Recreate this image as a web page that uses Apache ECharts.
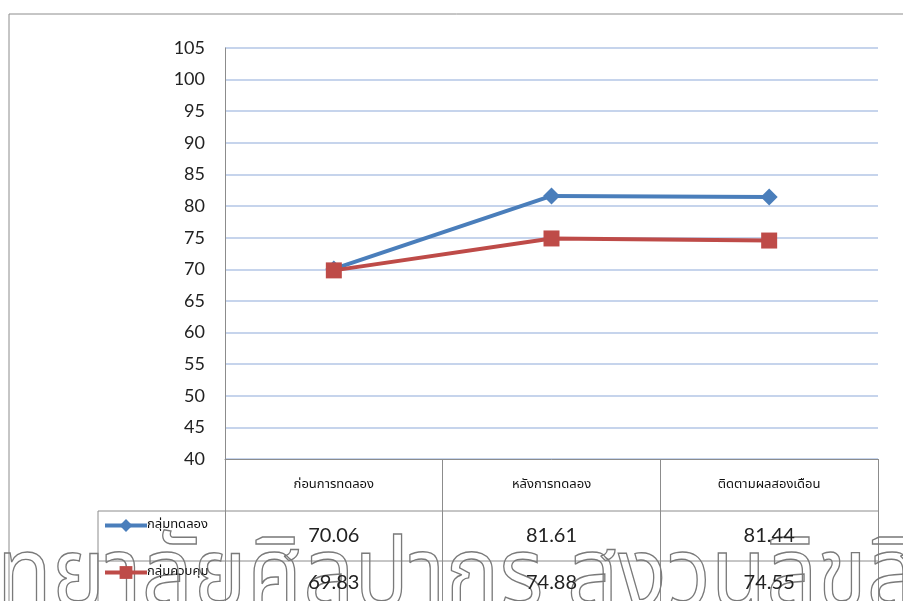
<!DOCTYPE html>
<html>
<head>
<meta charset="utf-8">
<script src="https://cdn.jsdelivr.net/npm/echarts@6/dist/echarts.min.js"></script>
<style>
html,body{margin:0;padding:0;background:#fff;}
#main{width:903px;height:601px;}
</style>
</head>
<body>
<div id="main"></div>
<script>
const categories = ['ก่อนการทดลอง', 'หลังการทดลอง', 'ติดตามผลสองเดือน'];
const seriesNames = ['กลุ่มทดลอง', 'กลุ่มควบคุม'];
const experimental = [70.06, 81.61, 81.44];
const control = [69.83, 74.88, 74.55];
const yMin = 40, yMax = 105, yStep = 5;
const watermark = 'ทยาลัยศิลปากร สงวนลิขสิทธิ์';

const BLUE = '#4a7ebb', RED = '#be4b48', GRID = '#c6d4ec', LINE = '#8c8c8c';
const NUMFONT = 'Lato, "Open Sans", sans-serif';
const THFONT = '"Noto Sans Thai", "Noto Sans", sans-serif';

const chart = echarts.init(document.getElementById('main'));
chart.setOption({
  animation: false,
  backgroundColor: '#fff',
  grid: {left: 225, right: 25, top: 48, bottom: 142, containLabel: false},
  legend: {
    orient: 'vertical', left: 103, top: 519, itemGap: 34, padding: 0,
    itemWidth: 42, itemHeight: 16,
    lineStyle: {width: 4},
    textStyle: {fontFamily: THFONT, fontSize: 13, color: '#111', padding: [0,0,0,-5]},
    data: seriesNames
  },
  xAxis: {
    type: 'category', data: categories, boundaryGap: true,
    axisLine: {show: true, lineStyle: {color: LINE, width: 1}},
    axisTick: {show: true, interval: 0, length: 142, inside: false, lineStyle: {color: LINE, width: 1}},
    axisLabel: {interval: 0, margin: 20, fontFamily: THFONT, fontSize: 13, color: '#111'},
    splitLine: {show: false}
  },
  yAxis: {
    type: 'value', min: yMin, max: yMax, interval: yStep,
    axisLine: {show: true, lineStyle: {color: LINE, width: 1}},
    axisTick: {show: false},
    axisLabel: {margin: 20, fontFamily: NUMFONT, fontSize: 18, color: '#222'},
    splitLine: {show: true, lineStyle: {color: GRID, width: 2}}
  },
  series: [
    {name: seriesNames[0], type: 'line', data: experimental, z: 3,
     symbol: 'diamond', symbolSize: 17,
     lineStyle: {color: BLUE, width: 4}, itemStyle: {color: BLUE}},
    {name: seriesNames[1], type: 'line', data: control, z: 4,
     symbol: 'rect', symbolSize: 16,
     lineStyle: {color: RED, width: 4}, itemStyle: {color: RED}}
  ]
});

// Data table built from the axis scale positions
const xs = categories.map((c) => chart.convertToPixel({xAxisIndex: 0}, c));
const step = xs.length > 1 ? xs[1] - xs[0] : 217;
const rightEdge = xs[xs.length - 1] + step / 2;
const axisY = chart.convertToPixel({yAxisIndex: 0}, yMin);
const row1 = axisY + 52, row2 = axisY + 102;
const legendLeft = 98;
const graphics = [
  {type: 'rect', shape: {x: 9, y: 14, width: 1000, height: 1000}, style: {fill: 'none', stroke: LINE, lineWidth: 1}, silent: true},
  {type: 'line', shape: {x1: legendLeft, y1: row1, x2: rightEdge, y2: row1}, style: {stroke: LINE, lineWidth: 1}},
  {type: 'line', shape: {x1: legendLeft, y1: row2, x2: rightEdge, y2: row2}, style: {stroke: LINE, lineWidth: 1}},
  {type: 'line', shape: {x1: legendLeft, y1: row1, x2: legendLeft, y2: 700}, style: {stroke: LINE, lineWidth: 1}}
];
graphics.push({type: 'text', x: -3, y: 636, z: 1, silent: true, scaleX: 1, scaleY: 1.1, originX: 0, originY: 0,
  style: {text: watermark, font: '90px ' + THFONT, fill: 'none', stroke: '#7a7a7a', lineWidth: 1.3, align: 'left', verticalAlign: 'bottom'}});
[experimental, control].forEach((vals, si) => {
  const cy = si === 0 ? (row1 + row2) / 2 : row2 + 22;
  vals.forEach((v, i) => {
    graphics.push({type: 'text', x: xs[i], y: cy, z: 5,
      style: {text: v.toFixed(2), font: '20px ' + NUMFONT, fill: '#222', align: 'center', verticalAlign: 'middle'}});
  });
});
chart.setOption({graphic: graphics});
</script>
</body>
</html>
